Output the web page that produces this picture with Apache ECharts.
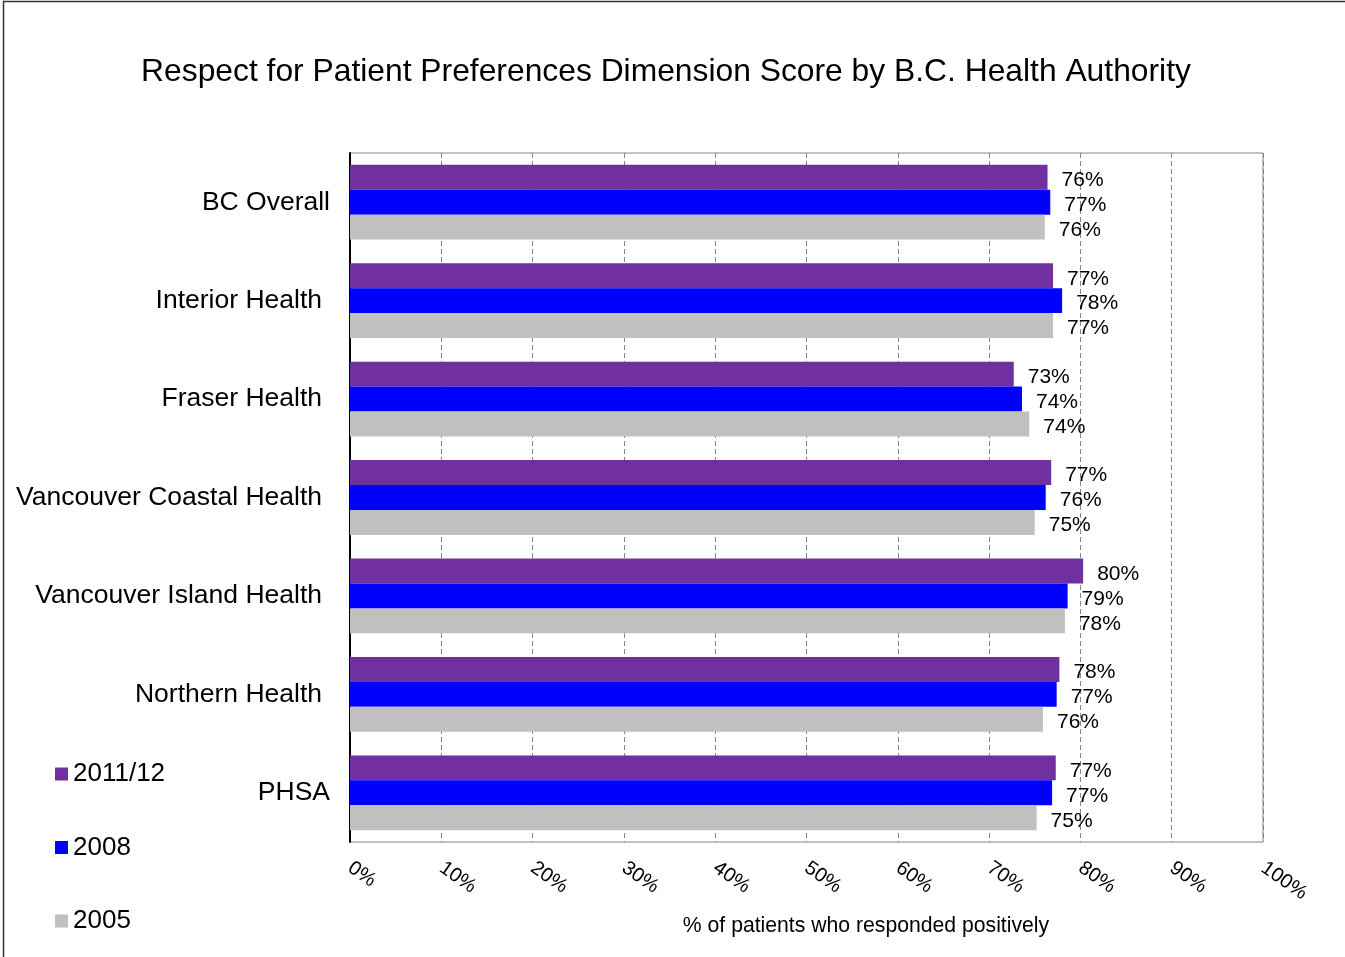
<!DOCTYPE html>
<html>
<head>
<meta charset="utf-8">
<script src="https://cdn.jsdelivr.net/npm/echarts@6/dist/echarts.min.js"></script>
<style>
  html, body { margin: 0; padding: 0; background: #fff; }
  #main { width: 1345px; height: 957px; }
</style>
</head>
<body>
<div id="main"></div>
<script>
// categories, top to bottom
var regions = ['BC Overall', 'Interior Health', 'Fraser Health', 'Vancouver Coastal Health',
  'Vancouver Island Health', 'Northern Health', 'PHSA'];

// % who responded positively
var y2011 = [76.4, 77.0, 72.7, 76.8, 80.3, 77.7, 77.3];
var y2008 = [76.7, 78.0, 73.6, 76.2, 78.6, 77.4, 76.9];
var y2005 = [76.1, 77.0, 74.4, 75.0, 78.3, 75.9, 75.2];

var tickLabels = ['0%', '10%', '20%', '30%', '40%', '50%', '60%', '70%', '80%', '90%', '100%'];

var fontFam = 'Liberation Sans, Arial, sans-serif';

function barLabel() {
  return {
    show: true,
    position: 'right',
    distance: 14,
    offset: [0, 3],
    color: '#000',
    fontFamily: fontFam,
    fontSize: 21,
    formatter: function (p) { return Math.round(p.value) + '%'; }
  };
}

var myChart = echarts.init(document.getElementById('main'));

var option = {
  backgroundColor: '#fff',
  animation: false,
  title: [{
    text: 'Respect for Patient Preferences Dimension Score by B.C. Health Authority',
    left: 661,
    top: 51,
    textAlign: 'center',
    textStyle: { fontFamily: fontFam, fontSize: 31.8, fontWeight: 'normal', color: '#000' }
  }, {
    text: '% of patients who responded positively',
    left: 861,
    top: 911,
    textAlign: 'center',
    textStyle: { fontFamily: fontFam, fontSize: 21.2, fontWeight: 'normal', color: '#000' }
  }],
  legend: {
    orient: 'vertical',
    left: 50,
    top: 756,
    itemWidth: 13,
    itemHeight: 13,
    itemGap: 47.5,
    icon: 'rect',
    textStyle: { fontFamily: fontFam, fontSize: 26, color: '#000' },
    data: ['2011/12', '2008', '2005']
  },
  grid: {
    left: 350,
    right: 82,
    top: 153,
    bottom: 115,
    show: true,
    borderColor: '#868686',
    borderWidth: 1
  },
  xAxis: {
    type: 'value',
    min: 0,
    max: 100,
    interval: 10,
    axisLine: { show: false },
    axisTick: { show: false },
    splitLine: { show: true, lineStyle: { color: '#868686', type: [5, 3], width: 1 } },
    axisLabel: {
      rotate: -35,
      margin: 24,
      color: '#000',
      fontFamily: fontFam,
      fontSize: 20,
      formatter: function (v) { return tickLabels[v / 10]; }
    }
  },
  yAxis: {
    type: 'category',
    inverse: true,
    data: regions,
    axisLine: { show: true, lineStyle: { color: '#000', width: 2 } },
    axisTick: { show: false },
    axisLabel: {
      margin: 20,
      color: '#000',
      fontFamily: fontFam,
      fontSize: 26.5,
      // the short names sit closer to the axis in the original
      formatter: function (v) {
        return (v === 'BC Overall' || v === 'PHSA') ? '{s|' + v + '}' : '{w|' + v + '}';
      },
      rich: {
        s: { fontFamily: fontFam, fontSize: 26.5, color: '#000' },
        w: { fontFamily: fontFam, fontSize: 26.5, color: '#000', padding: [0, 8, 0, 0] }
      }
    }
  },
  series: [{
    name: '2011/12',
    type: 'bar',
    data: y2011,
    barGap: '0%',
    barCategoryGap: '24%',
    itemStyle: { color: '#7030A0' },
    label: barLabel()
  }, {
    name: '2008',
    type: 'bar',
    data: y2008,
    itemStyle: { color: '#0000FF' },
    label: barLabel()
  }, {
    name: '2005',
    type: 'bar',
    data: y2005,
    itemStyle: { color: '#C0C0C0' },
    label: barLabel()
  }],
  graphic: [{
    type: 'rect',
    shape: { x: 3.5, y: 1.5, width: 1360, height: 980 },
    style: { fill: null, stroke: '#333', lineWidth: 1.5 },
    silent: true
  }]
};

myChart.setOption(option);
window.addEventListener('resize', myChart.resize);
</script>
</body>
</html>
